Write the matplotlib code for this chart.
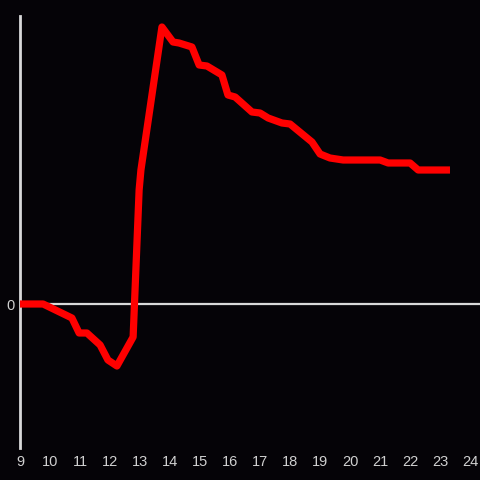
import matplotlib
matplotlib.use("Agg")
import matplotlib.pyplot as plt

# time of day (hours) and value
hours = [9.0, 9.77, 10.73, 10.97, 11.23, 11.67, 11.93, 12.23, 12.77, 12.97, 13.03,
         13.73, 14.1, 14.3, 14.73, 14.97, 15.23, 15.73, 15.93, 16.17, 16.73, 17.0,
         17.27, 17.73, 18.0, 18.73, 19.0, 19.33, 19.77, 21.0, 21.27, 22.0, 22.27, 23.33]
values = [0.0, 0.0, -1.4, -2.9, -2.9, -4.1, -5.6, -6.2, -3.3, 11.4, 13.4,
          27.7, 26.2, 26.1, 25.7, 23.9, 23.8, 22.9, 20.9, 20.7, 19.2, 19.1,
          18.6, 18.1, 18.0, 16.2, 15.0, 14.6, 14.4, 14.4, 14.1, 14.1, 13.4, 13.4]
xticks = list(range(9, 25))

bg = "#050307"
fig = plt.figure(figsize=(4.8, 4.8), dpi=100, facecolor=bg)
ax = fig.add_axes([20/480, 32/480, 460/480, 432/480], facecolor=bg)

ax.axhline(0, color="#d9d9d9", lw=1.6, zorder=1)
ax.plot(hours, values, color="#ff0000", lw=5.2, solid_joinstyle="round",
        solid_capstyle="butt", zorder=3)

ax.set_xlim(9, 24.33)
ax.set_ylim(-14.4, 28.8)
for s in ["top", "right", "bottom"]:
    ax.spines[s].set_visible(False)
ax.spines["left"].set_color("#d9d9d9")
ax.spines["left"].set_linewidth(2)

ax.set_xticks(xticks)
ax.set_xticklabels([str(t) for t in xticks])
ax.set_yticks([0])
ax.set_yticklabels(["0"])
ax.tick_params(axis="both", length=0, colors="#d0d0d0", labelsize=10.5)
ax.tick_params(axis="x", pad=5)
ax.tick_params(axis="y", pad=4)
for lab in ax.get_xticklabels() + ax.get_yticklabels():
    lab.set_fontfamily("Liberation Sans")

fig.savefig("out.png", dpi=100, facecolor=bg)
